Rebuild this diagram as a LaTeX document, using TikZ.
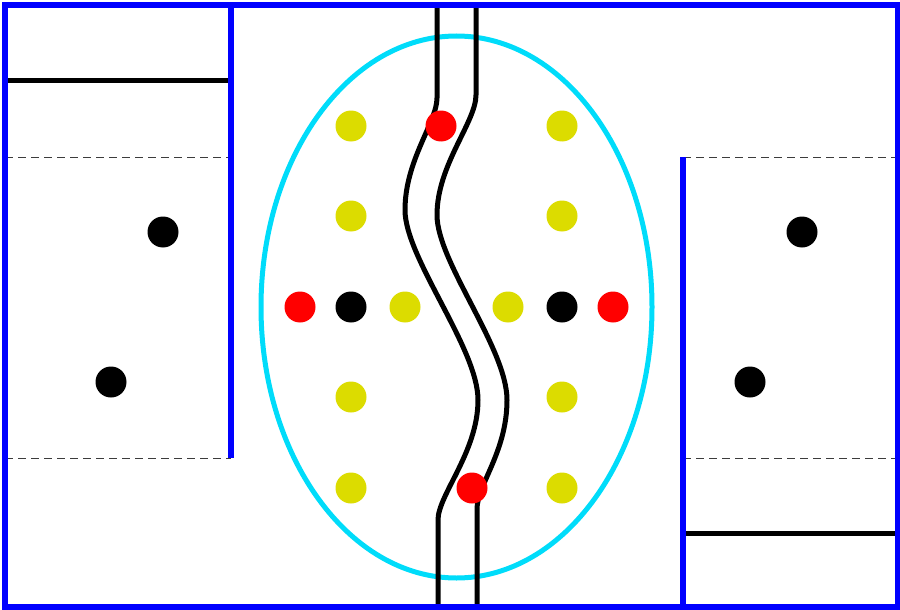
\documentclass[tikz,border=0pt]{standalone}
\definecolor{wallblue}{RGB}{0,0,255}
\definecolor{ringcyan}{RGB}{0,220,250}
\definecolor{dotyellow}{RGB}{220,220,0}
\definecolor{dotred}{RGB}{255,0,0}
\definecolor{dashgray}{RGB}{60,60,60}
\begin{document}
\begin{tikzpicture}[x=1pt,y=-1pt,
  wall/.style={draw=wallblue,line width=6pt},
  bar/.style={draw=black,line width=5pt},
  guide/.style={draw=dashgray,line width=1pt,dash pattern=on 8pt off 5pt},
  chan/.style={draw=black,line width=5pt},
  dot/.style={circle,inner sep=0pt,minimum size=31pt},
  ydot/.style={dot,fill=dotyellow},
  kdot/.style={dot,fill=black},
  rdot/.style={dot,fill=dotred}]
\useasboundingbox (0,0) rectangle (900,610);
% dashed guides
\draw[guide] (5,157) -- (231,157);
\draw[guide] (5,458) -- (231,458);
\draw[guide] (683,157) -- (898,157);
\draw[guide] (683,458) -- (898,458);
% black bars
\draw[bar] (5,81) -- (231,81);
\draw[bar] (683,533) -- (898,533);
% ellipse
\draw[ringcyan,line width=5pt] (456.5,307) ellipse [x radius=195.5pt, y radius=271pt];
% channel
\draw[chan] (437,8) -- (437,98) .. controls (437,122) and (405,160) .. (405,210)
  .. controls (405,258) and (478,348) .. (478,400)
  .. controls (478,452) and (438,495) .. (438,520) -- (438,607);
\draw[chan] (476,8) -- (476,95) .. controls (476,122) and (437,165) .. (437,215)
  .. controls (437,262) and (507,348) .. (507,400)
  .. controls (507,452) and (477,485) .. (477,509) -- (477,607);
% walls
\draw[wall] (5,5) rectangle (898,607);
\draw[wall] (231,5) -- (231,458);
\draw[wall] (683,157) -- (683,607);
% dots
\node[ydot] (y1) at (351,126) {};
\node[ydot] (y2) at (562,126) {};
\node[ydot] (y3) at (351,216) {};
\node[ydot] (y4) at (562,216) {};
\node[ydot] (y5) at (405,307) {};
\node[ydot] (y6) at (508,307) {};
\node[ydot] (y7) at (351,397) {};
\node[ydot] (y8) at (562,397) {};
\node[ydot] (y9) at (351,488) {};
\node[ydot] (y10) at (562,488) {};
\node[kdot] (k1) at (351,307) {};
\node[kdot] (k2) at (562,307) {};
\node[kdot] (k3) at (163,232) {};
\node[kdot] (k4) at (111,382) {};
\node[kdot] (k5) at (802,232) {};
\node[kdot] (k6) at (750,382) {};
\node[rdot] (r1) at (300,307) {};
\node[rdot] (r2) at (613,307) {};
\node[rdot] (r3) at (441,126) {};
\node[rdot] (r4) at (472,488) {};
\end{tikzpicture}
\end{document}
